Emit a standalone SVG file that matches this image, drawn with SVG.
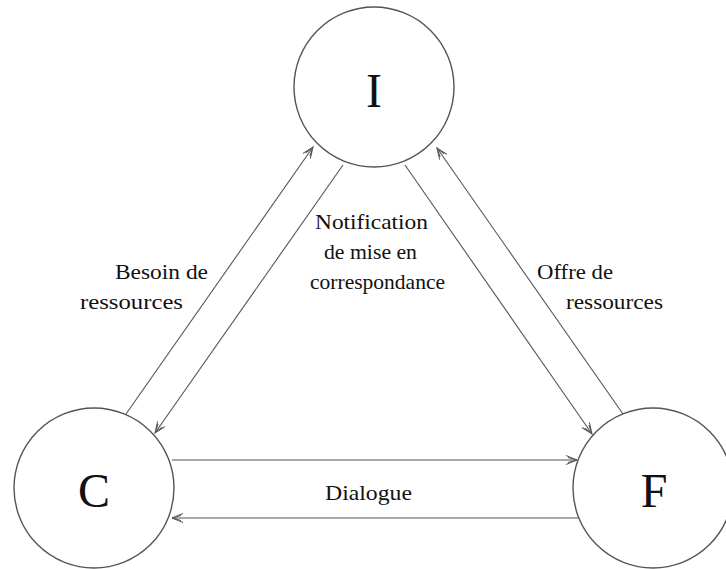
<svg xmlns="http://www.w3.org/2000/svg" width="726" height="569" viewBox="0 0 726 569">
  <style>
    .node circle { fill: none; stroke: #555; stroke-width: 1.4; }
    .node text { font-family: "Liberation Serif", "Times New Roman", serif; font-size: 48px; text-anchor: middle; fill: #111; }
    .conn line { stroke: #555; stroke-width: 1.1; fill: none; marker-end: url(#arr); }
    .lbl text { font-family: "Liberation Serif", "Times New Roman", serif; font-size: 21px; fill: #111; }
  </style>
  <defs>
    <marker id="arr" viewBox="-12 -6 14 12" refX="0" refY="0" markerWidth="14" markerHeight="12" markerUnits="userSpaceOnUse" orient="auto">
      <path d="M-11,-4.5 L0,0 L-11,4.5 M-9,-2.5 L0,0 L-9,2.5" fill="none" stroke="#555" stroke-width="1"/>
    </marker>
  </defs>
  <rect width="726" height="569" fill="#fff"/>

  <g id="node-I" class="node">
    <circle cx="374" cy="87" r="80"/>
    <text x="374" y="107">I</text>
  </g>
  <g id="node-C" class="node">
    <circle cx="94" cy="488" r="80"/>
    <text x="94" y="507">C</text>
  </g>
  <g id="node-F" class="node">
    <circle cx="653" cy="488" r="80"/>
    <text x="654" y="507">F</text>
  </g>

  <g id="connectors" class="conn">
    <line x1="126" y1="414" x2="313" y2="147"/>
    <line x1="343" y1="165" x2="155" y2="433"/>
    <line x1="405" y1="165" x2="592" y2="434"/>
    <line x1="623" y1="414" x2="437" y2="148"/>
    <line x1="172" y1="460" x2="577" y2="460"/>
    <line x1="579" y1="518" x2="172" y2="518"/>
  </g>

  <g id="labels" class="lbl">
    <text x="315" y="229" textLength="113" lengthAdjust="spacingAndGlyphs">Notification</text>
    <text x="324" y="259" textLength="93" lengthAdjust="spacingAndGlyphs">de mise en</text>
    <text x="310" y="289" textLength="135" lengthAdjust="spacingAndGlyphs">correspondance</text>
    <text x="115" y="279" textLength="93" lengthAdjust="spacingAndGlyphs">Besoin de</text>
    <text x="80" y="309" textLength="103" lengthAdjust="spacingAndGlyphs">ressources</text>
    <text x="537" y="279" textLength="76" lengthAdjust="spacingAndGlyphs">Offre de</text>
    <text x="566" y="309" textLength="97" lengthAdjust="spacingAndGlyphs">ressources</text>
    <text x="325" y="500" textLength="87" lengthAdjust="spacingAndGlyphs">Dialogue</text>
  </g>
</svg>
